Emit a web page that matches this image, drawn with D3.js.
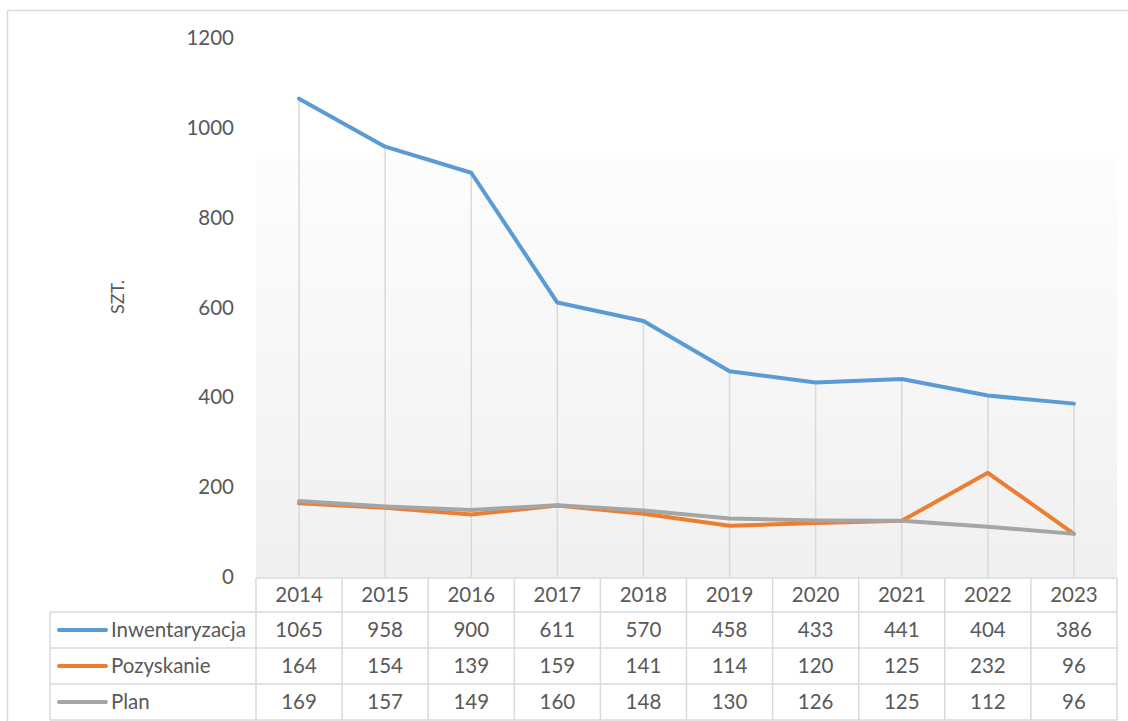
<!DOCTYPE html>
<html>
<head>
<meta charset="utf-8">
<script src="https://cdn.jsdelivr.net/npm/d3@7"></script>
<style>
  html, body { margin: 0; padding: 0; background: #fff; }
  svg { display: block; }
  text { font-family: Lato, "Open Sans", sans-serif; fill: #595959; }
</style>
</head>
<body>
<svg id="chart" width="1128" height="721"></svg>
<script>
// Years along the category axis
const years = ["2014", "2015", "2016", "2017", "2018", "2019", "2020", "2021", "2022", "2023"];

// Series values (szt.)
const inwentaryzacja = [1065, 958, 900, 611, 570, 458, 433, 441, 404, 386];
const pozyskanie     = [164, 154, 139, 159, 141, 114, 120, 125, 232, 96];
const plan           = [169, 157, 149, 160, 148, 130, 126, 125, 112, 96];

const seriesNames = ["Inwentaryzacja", "Pozyskanie", "Plan"];
const yTicks = [0, 200, 400, 600, 800, 1000, 1200];

const series = [
  { name: seriesNames[0], values: inwentaryzacja, color: "#5b9bd5" },
  { name: seriesNames[1], values: pozyskanie,     color: "#ed7d31" },
  { name: seriesNames[2], values: plan,           color: "#a5a5a5" }
];

const svg = d3.select("#chart");
const gridColor = "#d9d9d9";
const fontSize = 20.5;

const plot = { left: 256, right: 1117, top: 38, bottom: 577 };

const x = d3.scaleBand().domain(years).range([plot.left, plot.right]).padding(0);
const y = d3.scaleLinear().domain([0, 1200]).range([plot.bottom, plot.top]);
const cx = d => x(d) + x.bandwidth() / 2;

// Outer chart frame
svg.append("rect")
  .attr("x", 7.5).attr("y", 10.5)
  .attr("width", 1140).attr("height", 740)
  .attr("fill", "none").attr("stroke", gridColor).attr("stroke-width", 1.5);

// Plot area fill: soft vertical gradient
const defs = svg.append("defs");
const grad = defs.append("linearGradient")
  .attr("id", "plotFill").attr("x1", 0).attr("y1", 0).attr("x2", 0).attr("y2", 1);
grad.append("stop").attr("offset", "0%").attr("stop-color", "#fdfdfd");
grad.append("stop").attr("offset", "100%").attr("stop-color", "#f0f0f0");

svg.append("rect")
  .attr("x", plot.left).attr("y", 158)
  .attr("width", plot.right - plot.left).attr("height", plot.bottom - 158)
  .attr("fill", "url(#plotFill)");

// Y axis labels
const yAxis = d3.axisLeft(y).tickValues(yTicks).tickFormat(d3.format("d")).tickSize(0).tickPadding(0);
const yg = svg.append("g").attr("transform", "translate(234,0)").call(yAxis);
yg.select(".domain").remove();
yg.selectAll("text")
  .attr("font-size", fontSize)
  .attr("fill", "#595959")
  .style("font-family", "Lato, 'Open Sans', sans-serif");

// Axis title
svg.append("text")
  .attr("transform", "translate(124,297) rotate(-90)")
  .attr("text-anchor", "middle")
  .attr("font-size", 18)
  .text("SZT.");

// Drop lines from the highest point of each category to the axis
svg.append("g").selectAll("line")
  .data(years)
  .join("line")
  .attr("x1", d => cx(d)).attr("x2", d => cx(d))
  .attr("y1", (d, i) => y(d3.max(series, s => s.values[i])))
  .attr("y2", y(0))
  .attr("stroke", gridColor).attr("stroke-width", 1.5);

// Series lines
const line = d3.line()
  .x((v, i) => cx(years[i]))
  .y(v => y(v));

svg.append("g").selectAll("path")
  .data(series)
  .join("path")
  .attr("d", s => line(s.values))
  .attr("fill", "none")
  .attr("stroke", s => s.color)
  .attr("stroke-width", 4)
  .attr("stroke-linejoin", "round")
  .attr("stroke-linecap", "round");

// Data table beneath the plot
const table = { headTop: 578, rowH: [34, 36, 36, 36], legendLeft: 50 };
const rowTops = [table.headTop];
table.rowH.forEach((h, i) => rowTops.push(rowTops[i] + h));
const tbl = svg.append("g");

// Header row: year cells
tbl.append("line")
  .attr("x1", plot.left).attr("x2", plot.right)
  .attr("y1", rowTops[0]).attr("y2", rowTops[0])
  .attr("stroke", gridColor).attr("stroke-width", 1.5);

// Horizontal rules for the data rows
tbl.selectAll("line.h")
  .data(rowTops.slice(1))
  .join("line")
  .attr("class", "h")
  .attr("x1", table.legendLeft).attr("x2", plot.right)
  .attr("y1", d => d).attr("y2", d => d)
  .attr("stroke", gridColor).attr("stroke-width", 1.5);

// Vertical rules: column boundaries
const colEdges = years.map(d => x(d)).concat([plot.right]);
tbl.selectAll("line.v")
  .data(colEdges)
  .join("line")
  .attr("class", "v")
  .attr("x1", d => d).attr("x2", d => d)
  .attr("y1", rowTops[0]).attr("y2", rowTops[4])
  .attr("stroke", gridColor).attr("stroke-width", 1.5);

tbl.append("line")
  .attr("x1", table.legendLeft).attr("x2", table.legendLeft)
  .attr("y1", rowTops[1]).attr("y2", rowTops[4])
  .attr("stroke", gridColor).attr("stroke-width", 1.5);

// Year labels
tbl.selectAll("text.year")
  .data(years)
  .join("text")
  .attr("class", "year")
  .attr("x", d => cx(d))
  .attr("y", (rowTops[0] + rowTops[1]) / 2)
  .attr("dy", "0.36em")
  .attr("text-anchor", "middle")
  .attr("font-size", fontSize)
  .text(d => d);

// Series rows: legend key, name, values
series.forEach((s, si) => {
  const mid = (rowTops[si + 1] + rowTops[si + 2]) / 2;
  tbl.append("line")
    .attr("x1", 59).attr("x2", 106)
    .attr("y1", mid).attr("y2", mid)
    .attr("stroke", s.color).attr("stroke-width", 4)
    .attr("stroke-linecap", "round");
  tbl.append("text")
    .attr("x", 111).attr("y", mid).attr("dy", "0.36em")
    .attr("font-size", fontSize)
    .text(s.name);
  tbl.selectAll(null)
    .data(s.values)
    .join("text")
    .attr("x", (v, i) => cx(years[i]))
    .attr("y", mid).attr("dy", "0.36em")
    .attr("text-anchor", "middle")
    .attr("font-size", fontSize)
    .text(v => v);
});
</script>
</body>
</html>
